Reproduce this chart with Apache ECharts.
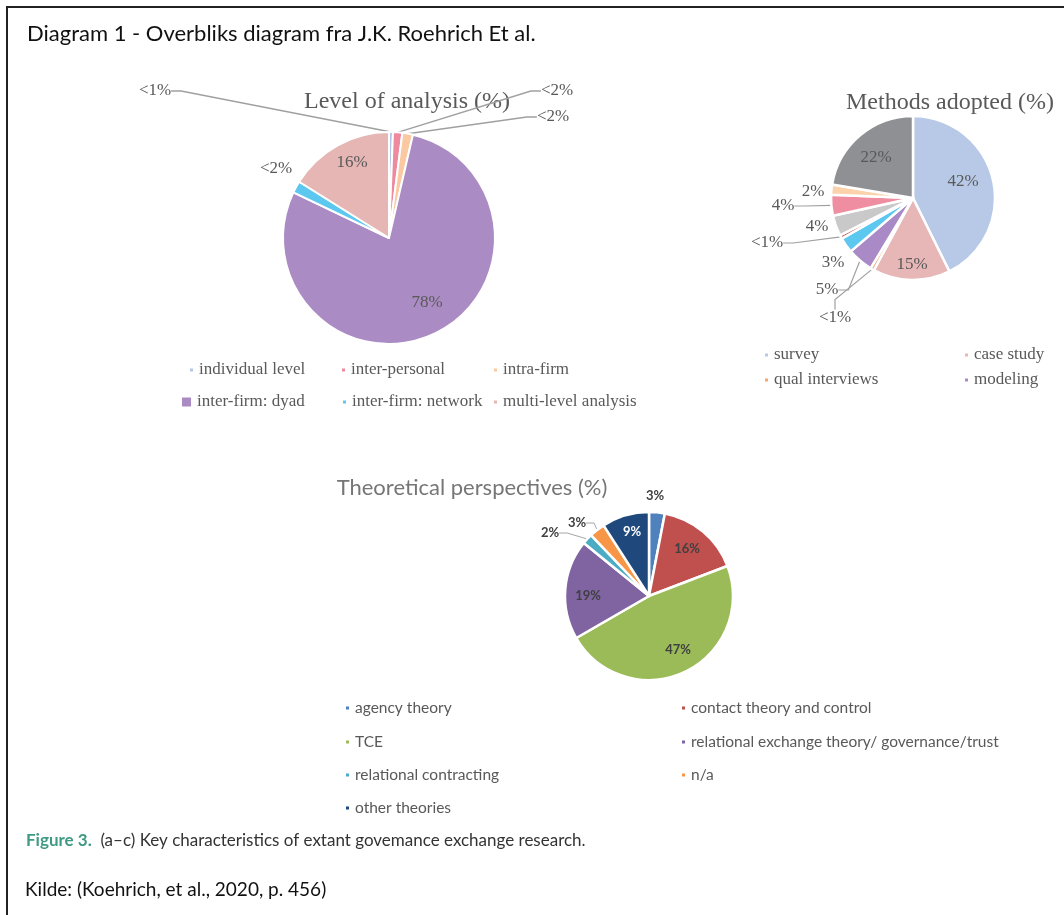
<!DOCTYPE html>
<html>
<head>
<meta charset="utf-8">
<script src="https://cdn.jsdelivr.net/npm/echarts@6/dist/echarts.min.js"></script>
<style>
html,body{margin:0;padding:0;background:#fff;}
#c{width:1064px;height:915px;}
</style>
</head>
<body>
<div id="c"></div>
<script>
// ---- Data: Level of analysis (%)
const lvlNames = ['individual level','inter-personal','intra-firm','inter-firm: dyad','inter-firm: network','multi-level analysis'];
const lvlValues = [0.6, 1.4, 1.6, 78, 1.8, 16];
const lvlLabels = ['<1%','<2%','<2%','78%','<2%','16%'];

// ---- Data: Methods adopted (%)
const mthNames = ['survey','case study','qual interviews','modeling','method E','method F','method G','method H','method I','method J'];
const mthValues = [42, 15, 0.7, 5, 3, 0.7, 4, 4, 2, 22];
const mthLabels = ['42%','15%','<1%','5%','3%','<1%','4%','4%','2%','22%'];
const mthLegend = ['survey','case study','qual interviews','modeling'];

// ---- Data: Theoretical perspectives (%)
const thNames = ['agency theory','contact theory and control','TCE','relational exchange theory/ governance/trust','relational contracting','n/a','other theories'];
const thValues = [3, 16, 47, 19, 2, 3, 9];
const thLabels = ['3%','16%','47%','19%','2%','3%','9%'];

// ---- Styles
const lvlColors = ['#b4c7e7','#ee8a9e','#fac9a2','#ab8bc3','#5cc8f0','#e5b6b4'];
const mthColors = ['#b7c9e6','#e6b7b6','#f7a56e','#a98ac6','#5cc8f0','#c0504d','#c9c9c9','#ee8ea0','#fcd2ad','#8e9094'];
const thColors = ['#4f81bd','#c0504d','#9bbb59','#8064a2','#4bacc6','#f79646','#1f497d'];

const lvlLabelPos = [[155,91],[557,91],[553,117],[427,303],[276,169],[352,163]];
const lvlLine = [true,true,true,false,false,false];
const mthLabelPos = [[963,182],[912,265],[835,318],[827,290],[833,263],[767,243],[817,227],[783,206],[813,192],[876,158]];
const mthLine = [false,false,true,true,false,true,false,true,false,false];
const thLabelPos = [[655,496],[687,549],[678,650],[588,596],[550,533],[577,523],[632,532]];
const thLine = [false,false,false,false,true,true,false];

const SERIF = '"Liberation Serif","DejaVu Serif",serif';
const SANS = 'Lato,"Liberation Sans",sans-serif';
const POS = [lvlLabelPos, mthLabelPos, thLabelPos];

function buildData(names, values, labels, colors, lines, extraLabel) {
  return names.map((n, i) => ({
    name: n,
    value: values[i],
    itemStyle: { color: colors[i] },
    label: Object.assign({ show: true, formatter: labels[i], position: lines[i] ? 'outside' : 'inside' }, extraLabel ? extraLabel(i) : {}),
    labelLine: { show: lines[i] }
  }));
}

function labelLayout(params) {
  const p = POS[params.seriesIndex][params.dataIndex];
  return { x: p[0], y: p[1], align: 'center', verticalAlign: 'middle' };
}

const chart = echarts.init(document.getElementById('c'), null, { renderer: 'canvas' });

function legendItem(name, textX, cy, font, size, color, iw) {
  iw = iw || 5;
  return {
    data: [name], left: textX - iw - 5, top: cy - 9, padding: 0,
    itemWidth: iw, itemHeight: iw, icon: 'rect', selectedMode: false,
    textStyle: { fontFamily: font, fontSize: size, color: color, lineHeight: 18, padding: [0,0,0,0] }
  };
}

const legends = [
  legendItem('individual level', 198, 370, SERIF, 17, '#595959'),
  legendItem('inter-personal', 350, 370, SERIF, 17, '#595959'),
  legendItem('intra-firm', 502, 370, SERIF, 17, '#595959'),
  legendItem('inter-firm: dyad', 196, 402, SERIF, 17, '#595959', 11),
  legendItem('inter-firm: network', 351, 402, SERIF, 17, '#595959'),
  legendItem('multi-level analysis', 502, 402, SERIF, 17, '#595959'),
  legendItem('survey', 773, 355, SERIF, 17, '#595959'),
  legendItem('case study', 973, 355, SERIF, 17, '#595959'),
  legendItem('qual interviews', 773, 380, SERIF, 17, '#595959'),
  legendItem('modeling', 973, 380, SERIF, 17, '#595959'),
  legendItem('agency theory', 354, 708, SANS, 15.5, '#595959'),
  legendItem('contact theory and control', 690, 708, SANS, 15.5, '#595959'),
  legendItem('TCE', 354, 742, SANS, 15.5, '#595959'),
  legendItem('relational exchange theory/ governance/trust', 690, 742, SANS, 15.5, '#595959'),
  legendItem('relational contracting', 354, 775, SANS, 15.5, '#595959'),
  legendItem('n/a', 690, 775, SANS, 15.5, '#595959'),
  legendItem('other theories', 354, 808, SANS, 15.5, '#595959')
];

const option = {
  backgroundColor: '#ffffff',
  animation: false,
  legend: legends,
  graphic: [
    { type: 'line', shape: { x1: 7, y1: 7, x2: 1064, y2: 7 }, style: { stroke: '#222', lineWidth: 2 } },
    { type: 'line', shape: { x1: 7, y1: 6, x2: 7, y2: 915 }, style: { stroke: '#222', lineWidth: 2 } },
    { type: 'text', x: 27, y: 34, style: { text: 'Diagram 1 - Overbliks diagram fra J.K. Roehrich Et al.', font: '22px ' + SANS, fill: '#111', verticalAlign: 'middle' } },
    { type: 'text', x: 407, y: 102, style: { text: 'Level of analysis (%)', font: '24px ' + SERIF, fill: '#595959', align: 'center', verticalAlign: 'middle' } },
    { type: 'text', x: 950, y: 103, style: { text: 'Methods adopted (%)', font: '24px ' + SERIF, fill: '#595959', align: 'center', verticalAlign: 'middle' } },
    { type: 'text', x: 472, y: 488, style: { text: 'Theoretical perspectives (%)', font: '22px ' + SANS, fill: '#767676', align: 'center', verticalAlign: 'middle' } },
    { type: 'text', x: 26, y: 841, style: { text: '{a|Figure 3.}  (a–c) Key characteristics of extant govemance exchange research.', font: '17px ' + SANS, fill: '#333', verticalAlign: 'middle', rich: { a: { fill: '#3f9a84', fontWeight: 'bold', fontFamily: SANS, fontSize: 17 } } } },
    { type: 'text', x: 25, y: 890, style: { text: 'Kilde: (Koehrich, et al., 2020, p. 456)', font: '19px ' + SANS, fill: '#111', verticalAlign: 'middle' } }
  ],
  series: [
    {
      type: 'pie', name: 'Level of analysis', center: [389, 238], radius: 106, startAngle: 90, clockwise: true,
      avoidLabelOverlap: false,
      itemStyle: { borderColor: '#fff', borderWidth: 2 },
      label: { fontFamily: SERIF, fontSize: 17, color: '#595959' },
      labelLine: { lineStyle: { color: '#a0a0a0', width: 1.5 }, length: 10, length2: 10 },
      labelLayout: labelLayout,
      data: buildData(lvlNames, lvlValues, lvlLabels, lvlColors, lvlLine)
    },
    {
      type: 'pie', name: 'Methods adopted', center: [913, 198], radius: 82, startAngle: 90, clockwise: true,
      avoidLabelOverlap: false,
      itemStyle: { borderColor: '#fff', borderWidth: 2.5 },
      label: { fontFamily: SERIF, fontSize: 17, color: '#595959' },
      labelLine: { lineStyle: { color: '#a0a0a0', width: 1.2 }, length: 8, length2: 10 },
      labelLayout: labelLayout,
      data: buildData(mthNames, mthValues, mthLabels, mthColors, mthLine)
    },
    {
      type: 'pie', name: 'Theoretical perspectives', center: [649, 596], radius: 84, startAngle: 90, clockwise: true,
      avoidLabelOverlap: false,
      itemStyle: { borderColor: '#fff', borderWidth: 2.5 },
      label: { fontFamily: SANS, fontSize: 13, fontWeight: 'bold', color: '#404040' },
      labelLine: { lineStyle: { color: '#a6a6a6', width: 1 }, length: 8, length2: 8 },
      labelLayout: labelLayout,
      data: buildData(thNames, thValues, thLabels, thColors, thLine, i => (i === 6 ? { color: '#ffffff' } : {}))
    }
  ]
};
chart.setOption(option);
</script>
</body>
</html>
